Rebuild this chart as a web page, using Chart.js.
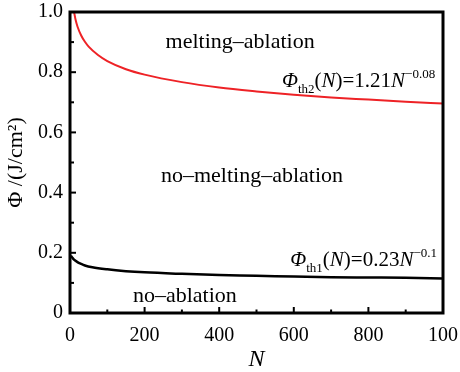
<!DOCTYPE html>
<html>
<head>
<meta charset="utf-8">
<script src="https://cdn.jsdelivr.net/npm/chart.js@4/dist/chart.umd.min.js"></script>
<style>
  html, body { margin: 0; padding: 0; background: #fff; }
  #wrap { width: 460px; height: 372px; }
</style>
</head>
<body>
<div id="wrap"><canvas id="chart"></canvas></div>
<script>
// Data
const th2N = [11, 15, 20, 30, 40, 50, 75, 100, 150, 200, 300, 400, 500, 600, 700, 800, 900, 1000];
const th2Phi = [0.999, 0.974, 0.952, 0.922, 0.901, 0.885, 0.857, 0.837, 0.810, 0.792, 0.767, 0.749, 0.736, 0.725, 0.716, 0.709, 0.702, 0.696];
const th1N = [2, 5, 10, 20, 30, 40, 60, 100, 150, 200, 300, 400, 500, 600, 700, 800, 900, 1000];
const th1Phi = [0.190, 0.186, 0.178, 0.169, 0.163, 0.158, 0.152, 0.145, 0.139, 0.135, 0.130, 0.126, 0.124, 0.121, 0.119, 0.118, 0.117, 0.115];

const xTicks = [0, 200, 400, 600, 800, 1000];
const xTickLabels = ['0', '200', '400', '600', '800', '100'];
const yTicks = [0, 0.2, 0.4, 0.6, 0.8, 1.0];
const yTickLabels = ['0', '0.2', '0.4', '0.6', '0.8', '1.0'];

const FONT = '"Liberation Serif", "Times New Roman", serif';

// region labels, placed in data units
const regions = [
  {text: 'melting\u2013ablation', x: 456, y: 0.880},
  {text: 'no\u2013melting\u2013ablation', x: 488, y: 0.435},
  {text: 'no\u2013ablation', x: 308, y: 0.037}
];

// formulas: runs of text, right end + baseline in data units
const formulas = [
  {x: 979, y: 0.751, runs: [
    {t: '\u03A6', it: true}, {t: 'th2', small: true, dy: 6}, {t: '('}, {t: 'N', it: true},
    {t: ')=1.21'}, {t: 'N', it: true}, {t: '\u22120.08', small: true, dy: -9}]},
  {x: 984, y: 0.156, runs: [
    {t: '\u03A6', it: true}, {t: 'th1', small: true, dy: 6}, {t: '('}, {t: 'N', it: true},
    {t: ')=0.23'}, {t: 'N', it: true}, {t: '\u22120.1', small: true, dy: -9}]}
];

function runFont(r) {
  return (r.it ? 'italic ' : '') + (r.small ? 13 : 21) + 'px ' + FONT;
}

const extras = {
  id: 'extras',
  afterDraw(chart) {
    const {ctx, chartArea: a, scales: {x, y}} = chart;
    ctx.save();
    ctx.strokeStyle = '#000';
    ctx.fillStyle = '#000';

    // inward ticks on bottom and left
    ctx.lineWidth = 2;
    for (let i = 0; i < xTicks.length - 1; i++) {
      const mid = (xTicks[i] + xTicks[i + 1]) / 2;
      [[xTicks[i], 6], [mid, 3.5]].forEach(([v, len]) => {
        if (v === 0) return;
        const px = x.getPixelForValue(v);
        ctx.beginPath(); ctx.moveTo(px, a.bottom); ctx.lineTo(px, a.bottom - len); ctx.stroke();
      });
    }
    for (let i = 0; i < yTicks.length - 1; i++) {
      const mid = (yTicks[i] + yTicks[i + 1]) / 2;
      [[yTicks[i], 6], [mid, 4]].forEach(([v, len]) => {
        if (v === 0) return;
        const py = y.getPixelForValue(v);
        ctx.beginPath(); ctx.moveTo(a.left, py); ctx.lineTo(a.left + len, py); ctx.stroke();
      });
    }

    // frame
    ctx.lineWidth = 3;
    ctx.strokeRect(a.left, a.top, a.right - a.left, a.bottom - a.top);

    // region labels
    ctx.font = '22px ' + FONT;
    ctx.textAlign = 'center';
    ctx.textBaseline = 'alphabetic';
    regions.forEach(r => ctx.fillText(r.text, x.getPixelForValue(r.x), y.getPixelForValue(r.y)));

    // formulas
    ctx.textAlign = 'left';
    formulas.forEach(f => {
      let w = 0;
      f.runs.forEach(r => { ctx.font = runFont(r); r.w = ctx.measureText(r.t).width; w += r.w; });
      let px = x.getPixelForValue(f.x) - w;
      const base = y.getPixelForValue(f.y);
      f.runs.forEach(r => { ctx.font = runFont(r); ctx.fillText(r.t, px, base + (r.dy || 0)); px += r.w; });
    });
    ctx.restore();
  }
};

new Chart(document.getElementById('chart'), {
  type: 'scatter',
  data: {
    datasets: [
      {data: th2N.map((n, i) => ({x: n, y: th2Phi[i]})), borderColor: '#ee2226', borderWidth: 2,
       showLine: true, pointRadius: 0, cubicInterpolationMode: 'monotone'},
      {data: th1N.map((n, i) => ({x: n, y: th1Phi[i]})), borderColor: '#000', borderWidth: 2.5,
       showLine: true, pointRadius: 0, cubicInterpolationMode: 'monotone'}
    ]
  },
  options: {
    responsive: true,
    maintainAspectRatio: false,
    animation: false,
    layout: {padding: {top: 12, right: 17, left: 0, bottom: 0}},
    plugins: {legend: {display: false}, tooltip: {enabled: false}},
    scales: {
      x: {
        type: 'linear', min: 0, max: 1000,
        afterBuildTicks: s => { s.ticks = xTicks.map(v => ({value: v})); },
        afterFit: s => { s.height = 59; s.paddingLeft = 0; s.paddingRight = 0; },
        grid: {display: false, drawTicks: false},
        border: {display: false},
        ticks: {color: '#000', padding: 11, maxRotation: 0, font: {family: FONT, size: 20},
                callback: (v, i) => xTickLabels[i]},
        title: {display: true, text: 'N', color: '#000', padding: 0,
                font: {family: FONT, size: 24, style: 'italic', lineHeight: 1}}
      },
      y: {
        min: 0, max: 1,
        afterBuildTicks: s => { s.ticks = yTicks.map(v => ({value: v})); },
        afterFit: s => { s.width = 70; s.paddingTop = 0; s.paddingBottom = 0; },
        grid: {display: false, drawTicks: false},
        border: {display: false},
        ticks: {color: '#000', padding: 7, font: {family: FONT, size: 20},
                callback: (v, i) => yTickLabels[i]},
        title: {display: true, text: '\u03A6 /(J/cm\u00B2)', color: '#000', padding: {top: 5},
                font: {family: FONT, size: 22, lineHeight: 1}}
      }
    }
  },
  plugins: [extras]
});
</script>
</body>
</html>
